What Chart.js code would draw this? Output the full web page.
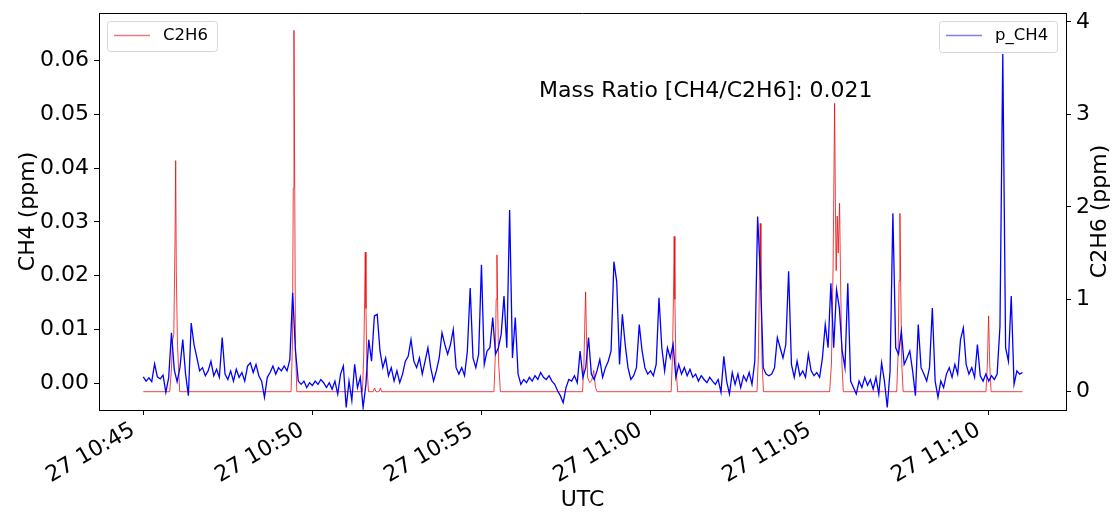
<!DOCTYPE html>
<html>
<head>
<meta charset="utf-8">
<script src="https://cdn.jsdelivr.net/npm/chart.js@4.4.1/dist/chart.umd.min.js"></script>
<style>
  html, body { margin: 0; padding: 0; background: #fff; }
</style>
</head>
<body>
<canvas id="myChart" width="1118" height="515"></canvas>
<script>
// x values are minutes after 27 10:45 (UTC)
const tickMinutes = [0, 5, 10, 15, 20, 25];
const tickLabels = ['27 10:45', '27 10:50', '27 10:55', '27 11:00', '27 11:05', '27 11:10'];
const leftTicks = [0, 0.01, 0.02, 0.03, 0.04, 0.05, 0.06];
const rightTicks = [0, 1, 2, 3, 4];

// p_CH4, sampled every 5 s from 10:45:00
const blueStart = 0;
const blueStep = 5 / 60;
const blueVal = [
  0.0012, 0.0004, 0.0010, 0.0003, 0.0036, 0.0012, 0.0008, 0.0015, -0.0017, 0.0010, 0.0094,
  0.0025, 0.0003, 0.0029, 0.0081, 0.0017, -0.0023, 0.0112, 0.0072, 0.0048, 0.0023,
  0.0029, 0.0014, 0.0023, 0.0041, 0.0014, 0.0026, 0.0011, 0.0085, 0.0017, 0.0007,
  0.0023, 0.0004, 0.0026, 0.0011, 0.0020, 0.0004, 0.0032, 0.0038, 0.0020, 0.0035,
  0.0014, 0.0004, -0.0026, 0.0011, 0.0020, 0.0032, 0.0017, 0.0029, 0.0023, 0.0032,
  0.0023, 0.0044, 0.0168, 0.0060, 0.0004, -0.0002, 0.0004, -0.0008, 0.0001, -0.0004,
  0.0004, -0.0002, 0.0007, 0.0001, -0.0008, 0.0001, -0.0011, 0.0004, -0.0020, 0.0017,
  0.0032, -0.0045, 0.0004, -0.0032, 0.0035, -0.0008, 0.0011, -0.0045, -0.0002, 0.0081,
  0.0041, 0.0125, 0.0128, 0.0060, 0.0029, 0.0047, 0.0014, 0.0029, 0.0004, 0.0023,
  0.0001, 0.0017, 0.0041, 0.0050, 0.0081, 0.0041, 0.0029, 0.0047, 0.0017, 0.0041,
  0.0066, 0.0029, 0.0004, 0.0023, 0.0047, 0.0094, 0.0072, 0.0054, 0.0072, 0.0100,
  0.0029, 0.0017, 0.0029, 0.0014, 0.0060, 0.0177, 0.0047, 0.0029, 0.0054, 0.0220,
  0.0035, 0.0060, 0.0066, 0.0122, 0.0054, 0.0066, 0.0091, 0.0162, 0.0066, 0.0322,
  0.0047, 0.0122, 0.0017, -0.0002, 0.0007, 0.0001, 0.0011, 0.0004, 0.0014, 0.0007,
  0.0020, 0.0011, 0.0007, 0.0014, 0.0004, -0.0002, -0.0014, -0.0023, -0.0036, -0.0008,
  0.0007, 0.0004, 0.0014, 0.0001, 0.0060, 0.0011, 0.0029, 0.0085, 0.0017, 0.0007,
  0.0023, 0.0044, 0.0011, 0.0029, 0.0041, 0.0060, 0.0226, 0.0189, 0.0035, 0.0128,
  0.0072, 0.0029, 0.0007, 0.0014, 0.0029, 0.0109, 0.0060, 0.0029, 0.0017, 0.0023,
  0.0014, 0.0035, 0.0159, 0.0066, 0.0023, 0.0066, 0.0047, 0.0072, 0.0011, 0.0035,
  0.0017, 0.0029, 0.0014, 0.0026, 0.0011, 0.0017, 0.0004, 0.0014, 0.0007, 0.0001,
  0.0011, 0.0004, -0.0002, 0.0007, -0.0017, 0.0050, 0.0004, -0.0020, 0.0020, -0.0002,
  0.0017, -0.0008, 0.0014, 0.0004, 0.0020, -0.0002, 0.0041, 0.0310, 0.0200, 0.0029,
  0.0017, 0.0014, 0.0017, 0.0029, 0.0085, 0.0066, 0.0047, 0.0072, 0.0208, 0.0035,
  0.0011, 0.0041, 0.0014, 0.0023, 0.0011, 0.0054, 0.0023, 0.0014, 0.0020, 0.0011,
  0.0047, 0.0109, 0.0066, 0.0186, 0.0066, 0.0174, 0.0140, 0.0060, 0.0029, 0.0186,
  0.0004, -0.0008, -0.0020, 0.0004, -0.0008, 0.0011, -0.0004, 0.0007, -0.0011, 0.0011,
  -0.0020, 0.0038, 0.0004, -0.0045, 0.0023, 0.0316, 0.0066, 0.0054, 0.0097, 0.0035,
  0.0047, 0.0060, 0.0023, -0.0023, 0.0109, 0.0029, 0.0017, 0.0004, 0.0029, 0.0140,
  0.0004, -0.0026, 0.0004, -0.0008, 0.0017, 0.0029, 0.0011, 0.0035, 0.0017, 0.0081,
  0.0103, 0.0035, 0.0017, 0.0029, 0.0011, 0.0072, 0.0014, 0.0004, 0.0017, 0.0004,
  0.0014, 0.0007, 0.0017, 0.0106, 0.0612, 0.0066, 0.0041, 0.0162, -0.0002, 0.0023, 0.0017, 0.0020
];

// C2H6 peaks
const redTime = [
  0, 0.781, 0.834, 0.863, 0.902, 0.937, 0.958, 0.976, 1.011, 1.076,
  4.37, 4.41, 4.435, 4.456, 4.478, 4.50, 4.54,
  6.48, 6.52, 6.545, 6.564, 6.585, 6.61, 6.66, 6.80, 6.84, 6.88, 6.97, 7.01, 7.05,
  10.37, 10.41, 10.435, 10.458, 10.48, 10.51, 10.56,
  12.99, 13.03, 13.06, 13.081, 13.10, 13.14, 13.20, 13.26, 13.32, 13.37, 13.42,
  15.61, 15.65, 15.68, 15.70, 15.72, 15.75, 15.80,
  18.15, 18.19, 18.22, 18.244, 18.265, 18.30, 18.34,
  20.296, 20.35, 20.40, 20.443, 20.472, 20.49, 20.52, 20.55, 20.59, 20.62, 20.66, 20.70,
  22.28, 22.32, 22.35, 22.375, 22.40, 22.43, 22.47,
  24.92, 24.96, 24.997, 25.03, 25.07,
  26.0
];
const redVal = [
  0, 0, 0.25, 0.55, 0.62, 1.6, 2.50, 1.3, 0.5, 0,
  0, 0.5, 2.2, 3.91, 2.2, 0.5, 0,
  0, 0.4, 1.0, 1.51, 0.9, 0.3, 0, 0, 0.04, 0, 0, 0.04, 0,
  0, 0.4, 1.0, 1.48, 0.9, 0.3, 0,
  0, 0.3, 0.8, 1.08, 0.7, 0.15, 0.1, 0.12, 0.23, 0.05, 0,
  0, 0.4, 1.1, 1.68, 1.0, 0.3, 0,
  0, 0.4, 1.2, 1.82, 1.1, 0.3, 0,
  0, 0.3, 1.4, 3.12, 1.8, 1.31, 1.9, 1.5, 2.04, 1.2, 0.3, 0,
  0, 0.4, 1.2, 1.93, 1.1, 0.3, 0,
  0, 0.3, 0.82, 0.3, 0,
  0
];

const FONT = 'DejaVu Sans';
const RED = 'rgba(235, 0, 0, 0.75)';
const BLUE = 'rgb(0, 0, 255)';
const RED_KEY = 'rgb(222, 128, 128)';
const BLUE_KEY = 'rgb(128, 128, 228)';

const bluePoints = blueVal.map((v, i) => ({ x: blueStart + i * blueStep, y: v }));
const redPoints = redTime.map((t, i) => ({ x: t, y: redVal[i] }));

// frame top, legends, annotation and axis titles
const decor = {
  id: 'decor',
  afterDraw(chart) {
    const ctx = chart.ctx;
    const a = chart.chartArea;
    ctx.save();
    ctx.strokeStyle = '#000';
    ctx.lineWidth = 1;
    ctx.beginPath();
    ctx.moveTo(a.left, a.top + 0.5);
    ctx.lineTo(a.right, a.top + 0.5);
    ctx.stroke();

    function legendBox(x, y, w, h, keyColor, text) {
      ctx.fillStyle = 'rgba(255,255,255,0.8)';
      ctx.strokeStyle = '#d6d6d6';
      ctx.lineWidth = 1;
      ctx.beginPath();
      ctx.roundRect(x + 0.5, y + 0.5, w, h, 3);
      ctx.fill();
      ctx.stroke();
      ctx.strokeStyle = keyColor;
      ctx.lineWidth = 1.3;
      ctx.beginPath();
      ctx.moveTo(x + 7, y + 14.5);
      ctx.lineTo(x + 43, y + 14.5);
      ctx.stroke();
      ctx.fillStyle = '#000';
      ctx.font = '16.5px "' + FONT + '"';
      ctx.textAlign = 'left';
      ctx.textBaseline = 'middle';
      ctx.fillText(text, x + 56, y + 15);
    }
    legendBox(107, 21, 110, 30, RED_KEY, 'C2H6');
    legendBox(939, 21, 118, 31, BLUE_KEY, 'p_CH4');

    ctx.fillStyle = '#000';
    ctx.font = '22px "' + FONT + '"';
    ctx.textAlign = 'left';
    ctx.textBaseline = 'alphabetic';
    ctx.fillText('Mass Ratio [CH4/C2H6]: 0.021', a.left + 0.455 * (a.right - a.left), 97);

    ctx.textAlign = 'center';
    ctx.textBaseline = 'middle';
    const midY = (a.top + a.bottom) / 2;
    ctx.save();
    ctx.translate(28, midY);
    ctx.rotate(-Math.PI / 2);
    ctx.fillText('CH4 (ppm)', 0, 0);
    ctx.restore();
    ctx.save();
    ctx.translate(1100, midY);
    ctx.rotate(-Math.PI / 2);
    ctx.fillText('C2H6 (ppm)', 0, 0);
    ctx.restore();
    ctx.fillText('UTC', (a.left + a.right) / 2, 500);
    ctx.restore();
  }
};

const tickFont = { family: FONT, size: 22 };
const axisGrid = { display: true, drawOnChartArea: false, drawTicks: true, tickLength: 5, color: '#000', lineWidth: 1 };

// fixed axis boxes so the plot area sits where the reference has it
function fixBox(size) {
  return s => {
    if (s.isHorizontal()) s.height = size; else s.width = size;
    s.paddingTop = 0; s.paddingBottom = 0; s.paddingLeft = 0; s.paddingRight = 0;
  };
}

new Chart(document.getElementById('myChart'), {
  type: 'line',
  data: {
    datasets: [
      { label: 'p_CH4', data: bluePoints, yAxisID: 'y', borderColor: BLUE, borderWidth: 1.3, pointRadius: 0, tension: 0 },
      { label: 'C2H6', data: redPoints, yAxisID: 'y1', borderColor: RED, borderWidth: 1, pointRadius: 0, tension: 0 }
    ]
  },
  options: {
    responsive: false,
    animation: false,
    layout: { padding: { top: 13, left: 0, right: 0, bottom: 0 } },
    plugins: { legend: { display: false }, tooltip: { enabled: false } },
    scales: {
      x: {
        type: 'linear',
        min: -1.310,
        max: 27.286,
        afterBuildTicks: s => { s.ticks = tickMinutes.map(v => ({ value: v })); },
        afterFit: fixBox(105),
        grid: axisGrid,
        border: { display: true, color: '#000' },
        ticks: {
          autoSkip: false, minRotation: 30, maxRotation: 30, padding: 2, labelOffset: -10,
          color: '#000', font: tickFont,
          callback: (v, i) => tickLabels[i]
        }
      },
      y: {
        position: 'left',
        min: -0.00497,
        max: 0.06881,
        afterBuildTicks: s => { s.ticks = leftTicks.map(v => ({ value: v })); },
        afterFit: fixBox(99),
        grid: axisGrid,
        border: { display: true, color: '#000' },
        ticks: { color: '#000', font: tickFont, padding: 5, callback: v => v.toFixed(2) }
      },
      y1: {
        position: 'right',
        min: -0.198,
        max: 4.097,
        afterBuildTicks: s => { s.ticks = rightTicks.map(v => ({ value: v })); },
        afterFit: fixBox(52),
        grid: axisGrid,
        border: { display: true, color: '#000' },
        ticks: { color: '#000', font: tickFont, padding: 5, callback: v => String(v) }
      }
    }
  },
  plugins: [decor]
});
</script>
</body>
</html>
